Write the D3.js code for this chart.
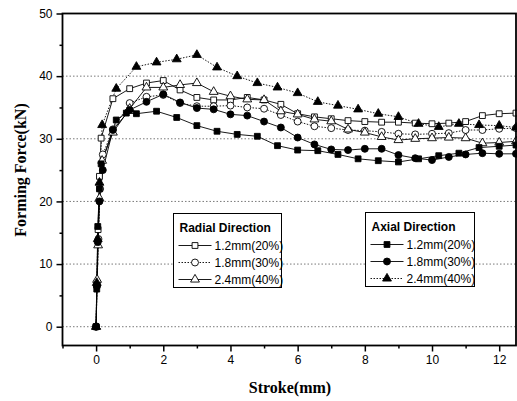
<!DOCTYPE html>
<html>
<head>
<meta charset="utf-8">
<script src="https://cdn.jsdelivr.net/npm/d3@7"></script>
<style>
    body { margin: 0; background: #fff; }
    svg { display: block; }
</style>
</head>
<body>
<svg></svg>
<script>
// stroke (mm) / forming force (kN)
const radial12X = [0, 0.03, 0.06, 0.1, 0.15, 0.5, 1.0, 1.5, 2.0, 2.5, 3.0, 3.5, 4.0, 4.5, 5.0, 5.5, 6.0, 6.5, 7.0, 7.5, 8.0, 8.5, 9.0, 9.5, 10.0, 10.5, 11.0, 11.5, 12.0, 12.5]
const radial12Y = [0, 7, 15.5, 24, 30.1, 36.4, 38.0, 38.9, 39.3, 37.8, 36.6, 36.2, 36.2, 36.6, 36.2, 35.5, 34.0, 33.5, 33.2, 32.9, 32.75, 32.65, 32.65, 32.5, 32.4, 32.5, 32.75, 33.7, 34.0, 34.1]

const radial18X = [0, 0.03, 0.07, 0.12, 0.2, 0.5, 1.0, 1.5, 2.0, 2.5, 3.0, 3.5, 4.0, 4.5, 5.0, 5.5, 6.0, 6.5, 7.0, 7.5, 8.0, 8.5, 9.0, 9.5, 10.0, 10.5, 11.0, 11.5, 12.0, 12.5]
const radial18Y = [0, 6.5, 14, 22, 27.5, 31.5, 35.7, 36.7, 37.0, 35.7, 35.2, 35.2, 35.3, 35.0, 34.8, 33.8, 32.75, 32.0, 31.7, 31.4, 31.3, 31.1, 30.8, 30.7, 30.8, 30.9, 31.4, 31.4, 31.6, 31.7]

const radial24X = [0, 0.03, 0.06, 0.1, 0.18, 0.5, 1.0, 1.5, 2.0, 2.5, 3.0, 3.5, 4.0, 4.5, 5.0, 5.5, 6.0, 6.5, 7.0, 7.5, 8.0, 8.5, 9.0, 9.5, 10.0, 10.5, 11.0, 11.5, 12.0, 12.5]
const radial24Y = [0, 7.5, 13, 20.5, 26.5, 31, 34.8, 38.2, 38.2, 38.6, 38.9, 37.5, 36.8, 36.3, 36.2, 34.4, 33.9, 33.1, 32.8, 31.5, 31.0, 30.3, 29.8, 30.0, 30.1, 30.2, 30.1, 29.3, 29.4, 29.6]

const axial12X = [0, 0.02, 0.05, 0.1, 0.15, 0.6, 0.9, 1.2, 1.8, 2.4, 3.0, 3.6, 4.2, 4.8, 5.4, 6.0, 6.6, 7.2, 7.8, 8.4, 9.0, 9.6, 10.2, 10.8, 11.4, 12.0, 12.5]
const axial12Y = [0, 6, 16, 22, 26, 33.0, 34.1, 34.0, 34.4, 33.4, 32.1, 31.2, 30.7, 30.4, 28.9, 28.2, 28.1, 27.5, 26.8, 26.5, 26.3, 26.8, 27.3, 27.7, 28.6, 28.8, 29.0]

const axial18X = [0, 0.02, 0.05, 0.1, 0.2, 0.5, 1.0, 1.5, 2.0, 2.5, 3.0, 3.5, 4.0, 4.5, 5.0, 5.5, 6.0, 6.5, 7.0, 7.5, 8.0, 8.5, 9.0, 9.5, 10.0, 10.5, 11.0, 11.5, 12.0, 12.5]
const axial18Y = [0, 6.5, 13.5, 20, 25, 31.4, 34.6, 35.9, 37.1, 35.8, 34.9, 34.7, 33.9, 33.7, 32.75, 31.8, 30.2, 29.1, 28.3, 28.2, 28.4, 28.4, 27.4, 26.9, 26.6, 27.1, 27.5, 27.7, 27.6, 27.6]

const axial24X = [0, 0.02, 0.05, 0.1, 0.18, 0.6, 1.2, 1.8, 2.4, 3.0, 3.6, 4.2, 4.8, 5.4, 6.0, 6.6, 7.2, 7.8, 8.4, 9.0, 9.6, 10.2, 10.8, 11.4, 12.0, 12.5]
const axial24Y = [0, 7, 14, 23, 32.2, 38.0, 41.5, 42.2, 42.7, 43.4, 41.4, 40.0, 38.9, 38.2, 37.3, 35.9, 35.3, 34.7, 34.0, 33.5, 32.4, 31.9, 32.4, 32.2, 32.1, 31.8]

const seriesLabels = ["1.2mm(20%)", "1.8mm(30%)", "2.4mm(40%)"]
const xTicks = [0, 2, 4, 6, 8, 10, 12]
const yTicks = [0, 10, 20, 30, 40, 50]
const gridValues = [0, 10, 20, 30, 40]

const W = 517, H = 401
const plotLeft = 62.5, plotRight = 516, plotTop = 13.5, plotBottom = 345.5

const svg = d3.select("svg")
    .attr("width", W)
    .attr("height", H)

const x = d3.scaleLinear().domain([-1, 12.5]).range([plotLeft, plotRight])
const y = d3.scaleLinear().domain([-3, 50]).range([plotBottom, plotTop])

function zip(xs, ys) {
    return xs.map((v, i) => ({x: v, y: ys[i]}))
}

const series = [
    {group: "radial", label: seriesLabels[0], data: zip(radial12X, radial12Y), shape: d3.symbolSquare, fill: "#fff", dash: null},
    {group: "radial", label: seriesLabels[1], data: zip(radial18X, radial18Y), shape: d3.symbolCircle, fill: "#fff", dash: "1.5,1.5"},
    {group: "radial", label: seriesLabels[2], data: zip(radial24X, radial24Y), shape: d3.symbolTriangle, fill: "#fff", dash: null},
    {group: "axial", label: seriesLabels[0], data: zip(axial12X, axial12Y), shape: d3.symbolSquare, fill: "#000", dash: null},
    {group: "axial", label: seriesLabels[1], data: zip(axial18X, axial18Y), shape: d3.symbolCircle, fill: "#000", dash: null},
    {group: "axial", label: seriesLabels[2], data: zip(axial24X, axial24Y), shape: d3.symbolTriangle, fill: "#000", dash: "1.5,1.5"}
]

function symbolSize(shape) {
    if (shape === d3.symbolSquare) return 34
    if (shape === d3.symbolCircle) return 38
    return 34
}

// grid
svg.append("g")
    .selectAll("line")
    .data(gridValues)
    .join("line")
    .attr("x1", plotLeft)
    .attr("x2", plotRight)
    .attr("y1", d => y(d))
    .attr("y2", d => y(d))
    .attr("stroke", "#555")
    .attr("stroke-width", 0.8)
    .attr("stroke-dasharray", "1.5,2")

// curves
const line = d3.line().x(d => x(d.x)).y(d => y(d.y))
series.forEach(s => {
    svg.append("path")
        .datum(s.data)
        .attr("d", line)
        .attr("fill", "none")
        .attr("stroke", "#000")
        .attr("stroke-width", 0.9)
        .attr("stroke-dasharray", s.dash)
})
series.forEach(s => {
    svg.append("g")
        .selectAll("path")
        .data(s.data)
        .join("path")
        .attr("transform", d => `translate(${x(d.x)},${y(d.y)})`)
        .attr("d", d3.symbol().type(s.shape).size(symbolSize(s.shape)))
        .attr("fill", s.fill)
        .attr("stroke", "#000")
        .attr("stroke-width", 0.9)
})

// axes
const xAxis = svg.append("g")
    .attr("transform", `translate(0,${plotBottom})`)
    .call(d3.axisBottom(x).tickValues(xTicks).tickSize(6).tickPadding(4).tickFormat(d3.format("d")))
const xMinor = svg.append("g")
    .attr("transform", `translate(0,${plotBottom})`)
    .call(d3.axisBottom(x).tickValues([-1, 1, 3, 5, 7, 9, 11]).tickSize(3).tickFormat(""))
const yAxis = svg.append("g")
    .attr("transform", `translate(${plotLeft},0)`)
    .call(d3.axisLeft(y).tickValues(yTicks).tickSize(6).tickPadding(4).tickFormat(d3.format("d")))
const yMinor = svg.append("g")
    .attr("transform", `translate(${plotLeft},0)`)
    .call(d3.axisLeft(y).tickValues([5, 15, 25, 35, 45]).tickSize(3).tickFormat(""))

;[xAxis, xMinor, yAxis, yMinor].forEach(a => {
    a.select(".domain").remove()
    a.selectAll("line").attr("stroke", "#000").attr("stroke-width", 1.5)
    a.selectAll("text")
        .attr("font-family", "'Liberation Sans', Arial, sans-serif")
        .attr("font-size", 12)
        .attr("fill", "#000")
})

// frame
svg.append("rect")
    .attr("x", plotLeft)
    .attr("y", plotTop)
    .attr("width", plotRight - plotLeft)
    .attr("height", plotBottom - plotTop)
    .attr("fill", "none")
    .attr("stroke", "#000")
    .attr("stroke-width", 1.8)

// axis titles
svg.append("text")
    .attr("x", 290)
    .attr("y", 393)
    .attr("text-anchor", "middle")
    .attr("font-family", "'Liberation Serif', 'Times New Roman', serif")
    .attr("font-weight", "bold")
    .attr("font-size", 16)
    .text("Stroke(mm)")
svg.append("text")
    .attr("transform", "translate(26,170) rotate(-90)")
    .attr("text-anchor", "middle")
    .attr("font-family", "'Liberation Serif', 'Times New Roman', serif")
    .attr("font-weight", "bold")
    .attr("font-size", 16)
    .text("Forming Force(kN)")

// legends
function legend(title, group, bx, by, bw, bh) {
    const g = svg.append("g").attr("transform", `translate(${bx},${by})`)
    g.append("rect")
        .attr("width", bw)
        .attr("height", bh)
        .attr("fill", "#fff")
        .attr("stroke", "#000")
        .attr("stroke-width", 1)
    g.append("text")
        .attr("x", 6)
        .attr("y", 18)
        .attr("font-family", "'Liberation Sans', Arial, sans-serif")
        .attr("font-weight", "bold")
        .attr("font-size", 12)
        .text(title)
    series.filter(s => s.group === group).forEach((s, i) => {
        const ly = 32 + i * 17
        g.append("line")
            .attr("x1", 5)
            .attr("x2", 38)
            .attr("y1", ly)
            .attr("y2", ly)
            .attr("stroke", "#000")
            .attr("stroke-width", 0.9)
            .attr("stroke-dasharray", s.dash)
        g.append("path")
            .attr("transform", `translate(21.5,${ly})`)
            .attr("d", d3.symbol().type(s.shape).size(symbolSize(s.shape)))
            .attr("fill", s.fill)
            .attr("stroke", "#000")
            .attr("stroke-width", 0.9)
        g.append("text")
            .attr("x", 41)
            .attr("y", ly + 4)
            .attr("font-family", "'Liberation Sans', Arial, sans-serif")
            .attr("font-size", 12)
            .text(s.label)
    })
}
legend("Radial Direction", "radial", 173.5, 213.5, 108, 74)
legend("Axial Direction", "axial", 365.5, 212.5, 109, 74)
</script>
</body>
</html>
